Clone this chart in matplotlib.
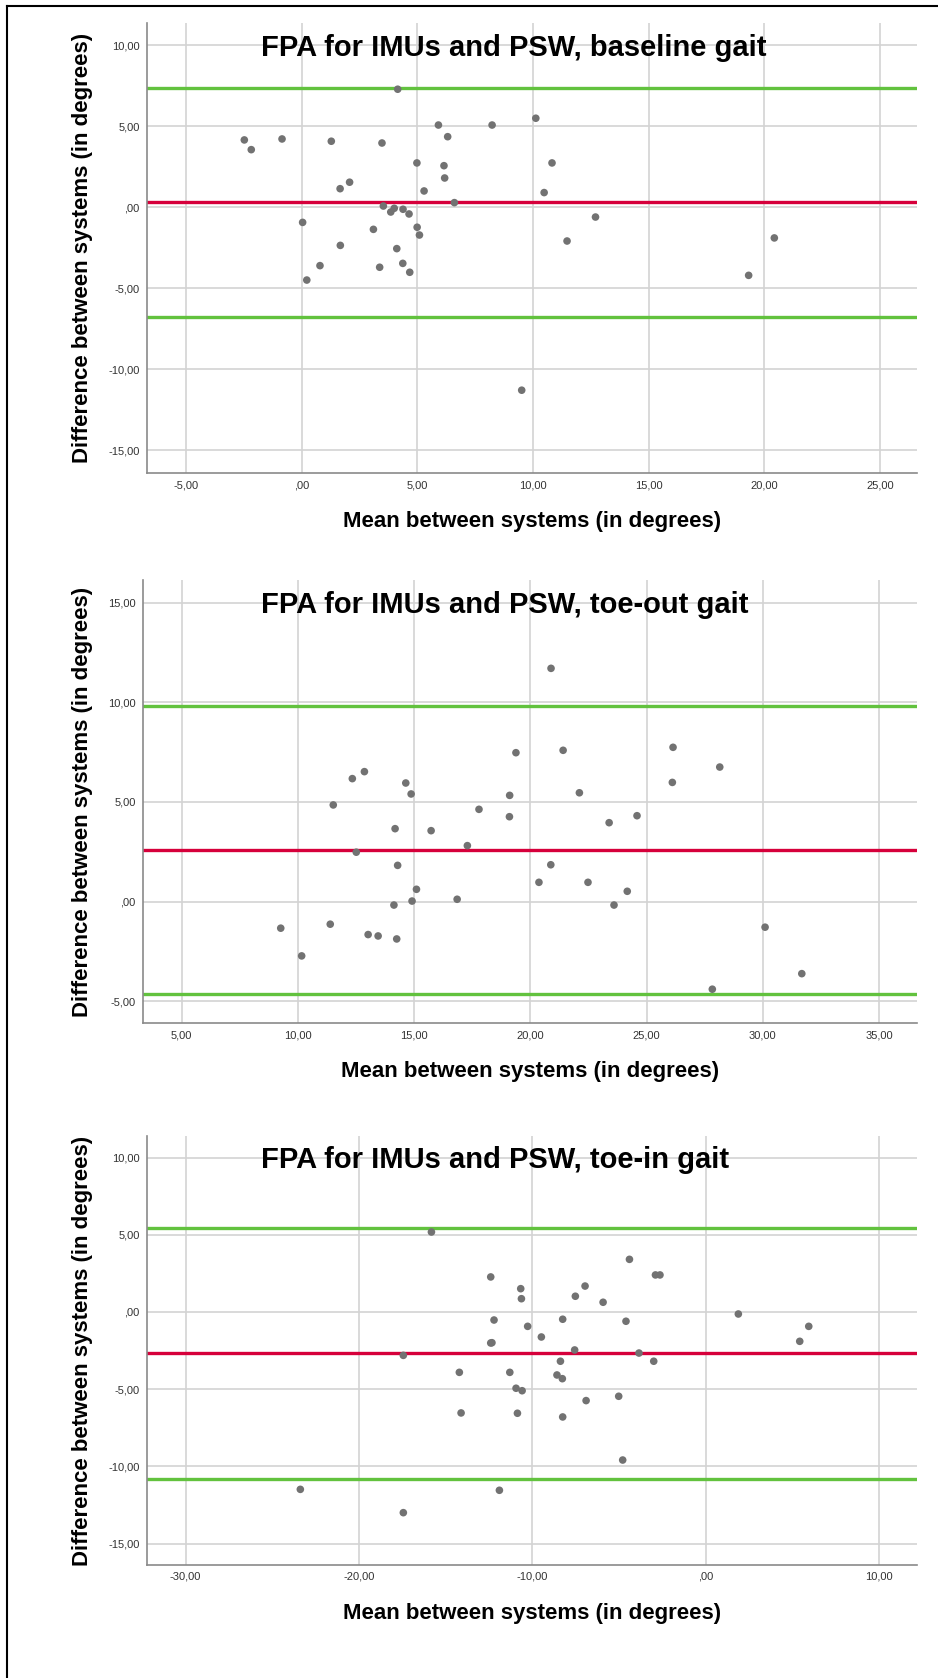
"""
Bland-Altman plots of foot progression angle (FPA), IMUs vs PSW,
for baseline, toe-out and toe-in gait. Saves out.png.
"""

import matplotlib

matplotlib.use("Agg")
import matplotlib.pyplot as plt
from matplotlib.lines import Line2D
from matplotlib.ticker import FuncFormatter, MultipleLocator
from matplotlib.transforms import blended_transform_factory

plt.rcParams["font.family"] = ["Liberation Sans", "DejaVu Sans"]

# ---- data ---------------------------------------------------------------
baseline_mean = [-2.48, -2.18, -0.85, 1.28, 3.47, 4.15, 5.91, 6.31, 4.98, 6.15,
                 6.18, 5.29, 2.07, 1.66, 6.60, 3.53, 3.85, 4.00, 4.38, 4.64,
                 0.04, 3.10, 4.99, 5.09, 1.67, 4.11, 0.79, 3.37, 4.37, 4.67,
                 0.22, 8.23, 10.12, 10.82, 10.48, 12.70, 11.47, 20.43, 19.32, 9.51]
baseline_diff = [4.17, 3.57, 4.23, 4.09, 3.98, 7.30, 5.09, 4.37, 2.75, 2.58,
                 1.82, 1.02, 1.56, 1.16, 0.30, 0.09, -0.28, -0.05, -0.11, -0.40,
                 -0.92, -1.35, -1.22, -1.70, -2.34, -2.54, -3.59, -3.69, -3.45, -4.00,
                 -4.48, 5.09, 5.51, 2.75, 0.92, -0.59, -2.07, -1.88, -4.19, -11.28]
baseline_bias, baseline_loa = 0.32, (7.40, -6.76)

toeout_mean = [12.86, 12.34, 14.64, 14.87, 11.52, 14.18, 15.73, 17.29, 12.51, 14.29,
               15.10, 14.91, 16.85, 14.13, 9.26, 11.39, 13.02, 13.45, 14.25, 10.16,
               20.89, 19.38, 21.41, 26.14, 28.15, 26.11, 19.11, 22.11, 17.79, 19.10,
               24.59, 23.39, 20.88, 20.37, 22.48, 24.17, 23.60, 30.10, 31.68, 27.83]
toeout_diff = [6.52, 6.17, 5.95, 5.40, 4.85, 3.66, 3.56, 2.81, 2.48, 1.82,
               0.62, 0.03, 0.12, -0.17, -1.33, -1.13, -1.65, -1.72, -1.87, -2.72,
               11.70, 7.47, 7.59, 7.74, 6.75, 5.98, 5.33, 5.46, 4.63, 4.26,
               4.31, 3.96, 1.85, 0.97, 0.97, 0.52, -0.17, -1.28, -3.61, -4.39]
toeout_bias, toeout_loa = 2.58, (9.79, -4.63)

toein_mean = [-15.82, -17.44, -14.21, -14.11, -23.38, -17.44, -4.40, -12.40, -2.90, -2.64,
              -10.67, -10.63, -6.96, -7.52, -5.92, 1.88, 5.94, 5.42, -12.21, -8.25,
              -4.60, -10.27, -9.48, -12.40, -12.33, -7.56, -3.85, -8.38, -3.00, -11.30,
              -8.58, -8.27, -10.94, -10.59, -5.02, -6.90, -10.86, -8.25, -4.79, -11.90]
toein_diff = [5.18, -2.81, -3.91, -6.54, -11.49, -13.00, 3.41, 2.27, 2.40, 2.40,
              1.51, 0.86, 1.68, 1.02, 0.63, -0.13, -0.93, -1.90, -0.52, -0.47,
              -0.60, -0.93, -1.62, -2.01, -1.99, -2.46, -2.66, -3.19, -3.19, -3.91,
              -4.08, -4.32, -4.94, -5.10, -5.46, -5.74, -6.56, -6.80, -9.59, -11.55]
toein_bias, toein_loa = -2.68, (5.44, -10.82)

titles = [
    "FPA for IMUs and PSW, baseline gait",
    "FPA for IMUs and PSW, toe-out gait",
    "FPA for IMUs and PSW, toe-in gait",
]

# ---- layout (pixels of the 938x1678 figure) ------------------------------
W, H = 938, 1678
panels = [
    # (left, top, right, bottom), xlim, ylim, x step, y ticks, top tick
    dict(box=(146.7, 23.3, 917.3, 473.3), xlim=(-6.70, 26.61), ylim=(-16.41, 11.37),
         xstep=5, ystep=5, ytop=10),
    dict(box=(142.7, 580.0, 917.3, 1023.3), xlim=(3.32, 36.65), ylim=(-6.10, 16.13),
         xstep=5, ystep=5, ytop=15),
    dict(box=(146.7, 1136.0, 917.3, 1565.0), xlim=(-32.24, 12.20), ylim=(-16.39, 11.40),
         xstep=10, ystep=5, ytop=10),
]

GREEN = "#62c23e"
RED = "#d6003b"
POINT = "#727272"
GRID = "#d3d3d3"
SPINE = "#8a8a8a"


def spss_number(v, _pos=None):
    s = f"{v:.2f}".replace(".", ",")
    if s in ("0,00", "-0,00"):
        return ",00"
    return s


def draw_panel(fig, spec, x, y, bias, loa, title):
    left, top, right, bottom = spec["box"]
    ax = fig.add_axes([left / W, 1 - bottom / H, (right - left) / W, (bottom - top) / H])
    ax.set_xlim(*spec["xlim"])
    ax.set_ylim(*spec["ylim"])
    ax.xaxis.set_major_locator(MultipleLocator(spec["xstep"]))
    ax.yaxis.set_major_locator(MultipleLocator(spec["ystep"]))
    ax.xaxis.set_major_formatter(FuncFormatter(spss_number))
    ax.yaxis.set_major_formatter(FuncFormatter(spss_number))
    ax.tick_params(length=0, labelsize=8, colors="#333333", pad=5)

    ax.set_axisbelow(True)
    ax.grid(True, color=GRID, linewidth=1.2)
    for side in ("top", "right"):
        ax.spines[side].set_visible(False)
    for side in ("left", "bottom"):
        ax.spines[side].set_color(SPINE)
        ax.spines[side].set_linewidth(1.2)

    ax.axhline(loa[0], color=GREEN, linewidth=2.4, zorder=2)
    ax.axhline(loa[1], color=GREEN, linewidth=2.4, zorder=2)
    ax.axhline(bias, color=RED, linewidth=2.4, zorder=2)
    ax.scatter(x, y, s=30, color=POINT, edgecolors="none", zorder=3)

    width_px = right - left
    height_px = bottom - top
    ax.set_xlabel("Mean between systems (in degrees)", fontsize=16, fontweight="bold")
    ax.xaxis.set_label_coords(0.5, -48 / height_px)
    ax.xaxis.label.set_verticalalignment("center")
    ax.set_ylabel("Difference between systems (in degrees)", fontsize=16, fontweight="bold")
    ax.yaxis.set_label_coords((82 - left) / width_px, 0.5)
    ax.yaxis.label.set_verticalalignment("center")

    trans = blended_transform_factory(ax.transAxes, ax.transData)
    ax.annotate(title, xy=((261 - left) / width_px, spec["ytop"]), xycoords=trans,
                xytext=(0, -2), textcoords="offset points",
                ha="left", va="center", fontsize=21, fontweight="bold", zorder=4)
    return ax


def main():
    fig = plt.figure(figsize=(W / 100, H / 100), dpi=100)
    fig.patch.set_facecolor("white")

    series = [
        (baseline_mean, baseline_diff, baseline_bias, baseline_loa),
        (toeout_mean, toeout_diff, toeout_bias, toeout_loa),
        (toein_mean, toein_diff, toein_bias, toein_loa),
    ]
    for spec, (x, y, bias, loa), title in zip(panels, series, titles):
        draw_panel(fig, spec, x, y, bias, loa, title)

    # frame on the left and top edge of the picture
    bx, by = 7 / W, 1 - 6 / H
    fig.add_artist(Line2D([bx, bx], [0, by], color="black", linewidth=1.5,
                          transform=fig.transFigure))
    fig.add_artist(Line2D([bx, 1], [by, by], color="black", linewidth=1.5,
                          transform=fig.transFigure))

    fig.savefig("out.png", dpi=100)
    plt.close(fig)


if __name__ == "__main__":
    main()
